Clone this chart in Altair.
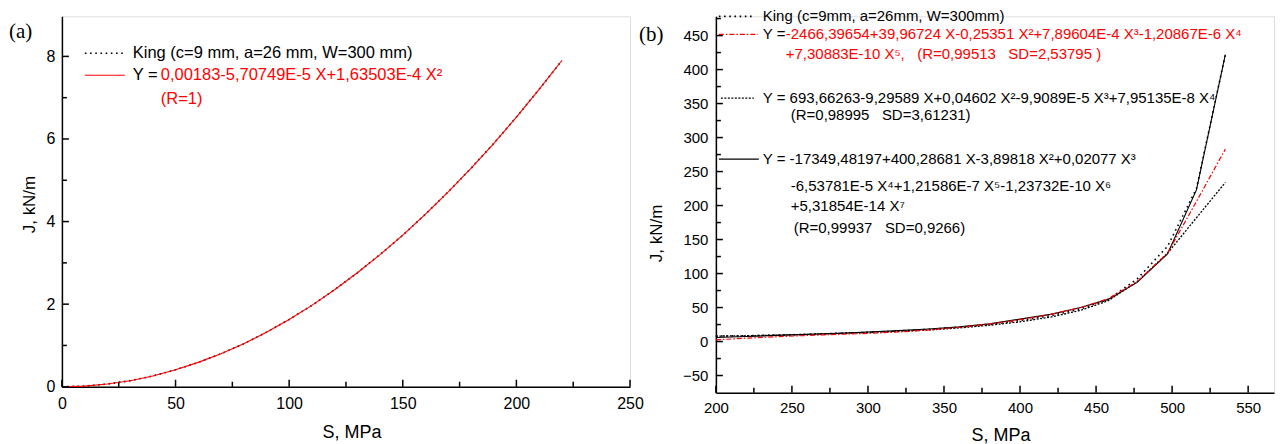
import altair as alt
import pandas as pd

# ---------------- panel (a) data ----------------
S_A = [0, 10, 20, 30, 40, 50, 60, 70, 80, 90, 100, 110, 120, 130, 140, 150,
       160, 170, 180, 190, 200, 210, 220]
J_A_KING = [0.0, 0.016, 0.065, 0.146, 0.26, 0.41, 0.59, 0.80, 1.04, 1.32, 1.63,
            1.97, 2.35, 2.76, 3.20, 3.67, 4.18, 4.72, 5.29, 5.89, 6.53, 7.20, 7.90]
J_A_FIT = [0.0, 0.016, 0.065, 0.146, 0.26, 0.41, 0.59, 0.80, 1.04, 1.32, 1.63,
           1.97, 2.35, 2.76, 3.20, 3.67, 4.18, 4.72, 5.29, 5.89, 6.53, 7.20, 7.90]

# ---------------- panel (b) data ----------------
S_B = [200, 220, 240, 260, 280, 300, 320, 340, 360, 380, 400, 420, 440, 458,
       477, 497, 516, 535]
J_B_KING = [8, 8.5, 9.5, 10.5, 12, 13.5, 15.5, 18, 21, 25, 31, 38, 48, 62,
            92, 140, 225, 422]
J_B_P7 = [6, 7.5, 9, 10.5, 12, 14, 16, 18.5, 21.5, 26, 33, 40, 50, 62,
          87, 129, 223, 422]
J_B_P5 = [2.5, 5, 7, 9, 10.5, 12, 14, 17, 21, 26, 32, 40, 50, 63,
          88, 130, 206, 283]
J_B_P4 = [8, 8.5, 9.5, 10.5, 12, 13.5, 15, 17, 20, 24, 29, 36, 46, 60,
          88, 130, 182, 234]

# ---------------- tick values ----------------
A_X_MAJOR = [0, 50, 100, 150, 200, 250]
A_X_MINOR = [25, 75, 125, 175, 225]
A_Y_MAJOR = [0, 2, 4, 6, 8]
A_Y_MINOR = [1, 3, 5, 7]
B_X_MAJOR = [200, 250, 300, 350, 400, 450, 500, 550]
B_X_MINOR = [225, 275, 325, 375, 425, 475, 525]
B_Y_MAJOR = [-50, 0, 50, 100, 150, 200, 250, 300, 350, 400, 450]
B_Y_MINOR = [-25, 25, 75, 125, 175, 225, 275, 325, 375, 425, 475]

FONT = "Liberation Sans"
RED = "#ff0000"
NB = "\u00a0"

dummy = pd.DataFrame({"d": [0]})


def txt(s, x, y, color="black", size=15, font=FONT):
    return alt.Chart(dummy).mark_text(
        text=s, align="left", baseline="middle", fontSize=size, font=font, color=color
    ).encode(x=alt.value(x), y=alt.value(y))


def seg(x1, x2, y, color, width, dash=None):
    kw = dict(color=color, strokeWidth=width)
    if dash is not None:
        kw["strokeDash"] = dash
    return alt.Chart(dummy).mark_rule(**kw).encode(
        x=alt.value(x1), x2=alt.value(x2), y=alt.value(y))


def panel(W, H, xdom, ydom, xax, yax, series, xmaj, xmin, ymaj, ymin, extras):
    xs = alt.Scale(domain=xdom, nice=False, zero=False)
    ys = alt.Scale(domain=ydom, nice=False, zero=False)
    layers = []
    for S, J, style in series:
        df = pd.DataFrame({"S": S, "J": J})
        layers.append(alt.Chart(df).mark_line(**style).encode(
            x=alt.X("S:Q", scale=xs, axis=xax),
            y=alt.Y("J:Q", scale=ys, axis=yax)))
    for vals, ln in ((xmaj, 7), (xmin, 5)):
        layers.append(alt.Chart(pd.DataFrame({"S": vals})).mark_rule(
            color="black", strokeWidth=1.5).encode(
            x=alt.X("S:Q", scale=xs, axis=xax),
            y=alt.value(H), y2=alt.value(H - ln)))
    for vals, ln in ((ymaj, 7), (ymin, 5)):
        layers.append(alt.Chart(pd.DataFrame({"J": vals})).mark_rule(
            color="black", strokeWidth=1.5).encode(
            y=alt.Y("J:Q", scale=ys, axis=yax),
            x=alt.value(0), x2=alt.value(ln)))
    layers += extras
    return alt.layer(*layers).properties(width=W, height=H)


def xaxis(vals, size, pad, title, tx, ty, tsize):
    return alt.Axis(values=vals, grid=False, ticks=False, tickSize=0,
                    domainColor="black", domainWidth=1.5,
                    labelFont=FONT, labelFontSize=size, labelColor="black",
                    labelPadding=pad, labelBaseline="middle", labelFlush=False,
                    labelOverlap=False,
                    title=title, titleFont=FONT, titleFontSize=tsize,
                    titleFontWeight="normal", titleColor="black",
                    titleX=tx, titleY=ty, titleAlign="center",
                    titleBaseline="middle", format="d")


def yaxis(vals, size, pad, title, tx, ty, tsize, fmt="d"):
    return alt.Axis(values=vals, grid=False, ticks=False, tickSize=0,
                    domainColor="black", domainWidth=1.5,
                    labelFont=FONT, labelFontSize=size, labelColor="black",
                    labelPadding=pad, labelFlush=False, labelOverlap=False,
                    title=title, titleFont=FONT, titleFontSize=tsize,
                    titleFontWeight="normal", titleColor="black",
                    titleX=tx, titleY=ty, titleAlign="center",
                    titleBaseline="middle", titleAngle=270, format=fmt)


# ---------------- panel (a) ----------------
WA, HA = 569, 371
extras_a = [
    txt("(a)", -53, 16, size=21, font="Liberation Serif"),
    seg(23, 64, 37, "black", 1.6, [1.6, 3.6]),
    txt("King (c=9 mm, a=26 mm, W=300 mm)", 71, 37, size=16.5),
    seg(23, 63, 59, RED, 1.2),
    txt("Y =", 71, 59, size=16.5),
    txt("0,00183-5,70749E-5 X+1,63503E-4 X\u00b2", 99, 59, color=RED, size=16.5),
    txt("(R=1)", 99, 83, color=RED, size=16.5),
]
left = panel(
    WA, HA, [0, 250], [0, 8.97],
    xaxis(A_X_MAJOR, 16, 17, "S, MPa", 290, 46, 18),
    yaxis(A_Y_MAJOR, 16, 7, "J, kN/m", -32, 188, 17),
    [(S_A, J_A_KING, dict(color="black", strokeWidth=1.6, strokeDash=[1.6, 3.6])),
     (S_A, J_A_FIT, dict(color=RED, strokeWidth=1.1))],
    A_X_MAJOR, A_X_MINOR, A_Y_MAJOR, A_Y_MINOR, extras_a)

# ---------------- panel (b) ----------------
WB, HB = 559, 377
extras_b = [
    txt("(b)", -77, 19, size=21, font="Liberation Serif"),
    seg(3, 38, 0, "black", 1.6, [1.6, 3.6]),
    txt("King (c=9mm, a=26mm, W=300mm)", 47, 0),
    seg(3, 42, 18, RED, 1.2, [5, 2, 1.5, 2]),
    txt("Y =", 47, 18),
    txt("-2466,39654+39,96724 X-0,25351 X\u00b2+7,89604E-4 X\u00b3-1,20867E-6 X\u2074",
        70, 18, color=RED),
    txt("+7,30883E-10 X\u2075," + NB * 3 + "(R=0,99513" + NB * 3 + "SD=2,53795 )",
        70, 38, color=RED),
    seg(5, 38, 82, "black", 1.3, [2, 1.5]),
    txt("Y = 693,66263-9,29589 X+0,04602 X\u00b2-9,9089E-5 X\u00b3+7,95135E-8 X\u2074",
        47, 82),
    txt("(R=0,98995" + NB * 3 + "SD=3,61231)", 75, 99),
    seg(3, 43, 143, "black", 1.1),
    txt("Y = -17349,48197+400,28681 X-3,89818 X\u00b2+0,02077 X\u00b3", 47, 143),
    txt("-6,53781E-5 X\u2074+1,21586E-7 X\u2075-1,23732E-10 X\u2076", 75, 170),
    txt("+5,31854E-14 X\u2077", 75, 190),
    txt("(R=0,99937" + NB * 3 + "SD=0,9266)", 78, 212),
]
right = panel(
    WB, HB, [200, 567], [-75.3, 478.3],
    xaxis(B_X_MAJOR, 15, 15, "S, MPa", 285, 43, 18),
    yaxis(B_Y_MAJOR, 15, 8, "J, kN/m", -59, 217, 17),
    [(S_B, J_B_KING, dict(color="black", strokeWidth=1.6, strokeDash=[1.6, 3.6])),
     (S_B, J_B_P4, dict(color="black", strokeWidth=1.3, strokeDash=[2, 1.5])),
     (S_B, J_B_P7, dict(color="black", strokeWidth=1.1)),
     (S_B, J_B_P5, dict(color=RED, strokeWidth=1.2, strokeDash=[5, 2, 1.5, 2]))],
    B_X_MAJOR, B_X_MINOR, B_Y_MAJOR, B_Y_MINOR, extras_b)

chart = alt.hconcat(left, right, spacing=86, bounds="flush", padding=0) \
    .configure_view(stroke=None) \
    .configure(font=FONT, background="white")

chart.save("out.html", embed_options={"renderer": "svg", "actions": False})
